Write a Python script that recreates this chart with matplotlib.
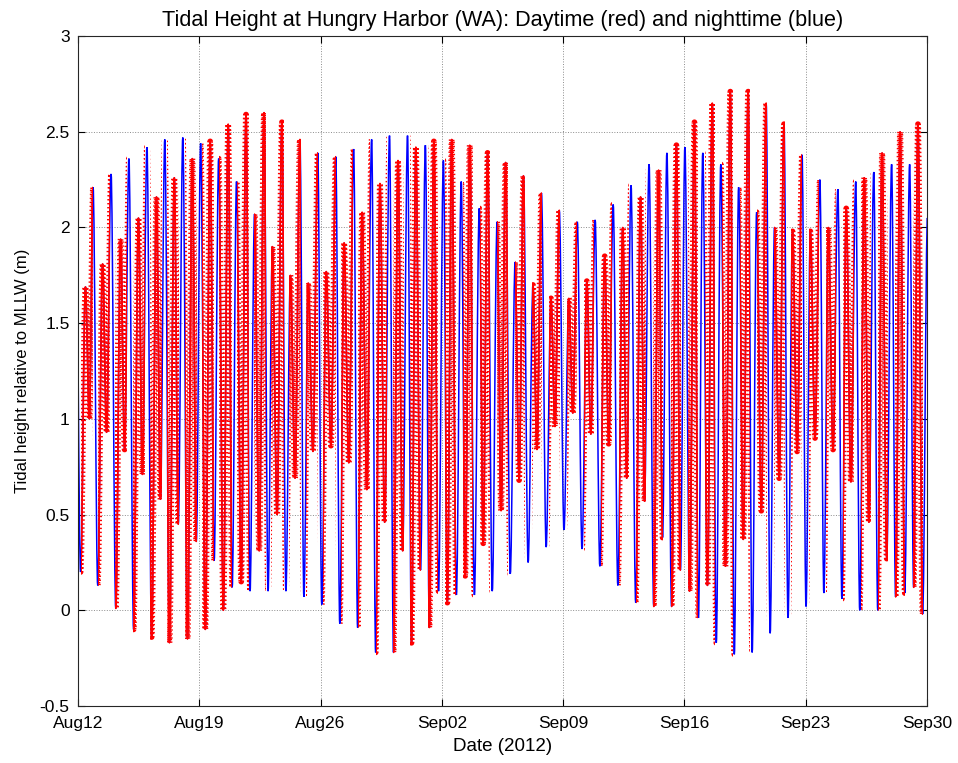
"""Tidal height at Hungry Harbor (WA), Aug-Sep 2012, with daytime samples in red."""

import numpy as np
import matplotlib
matplotlib.use("Agg")
import matplotlib.pyplot as plt
from matplotlib.path import Path
from matplotlib.patches import PathPatch

# time (days after Aug 12 00:00) of the first high water of each tidal day
high1_time = [-0.12, 0.87, 1.91, 2.94, 3.98, 5.01, 6.05, 7.08, 8.12, 9.15,
              10.19, 11.22, 12.26, 13.29, 14.33, 15.36, 16.40, 17.43, 18.47,
              19.50, 20.54, 21.57, 22.61, 23.64, 24.68, 25.71, 26.75, 27.78,
              28.82, 29.85, 30.89, 31.92, 32.96, 33.99, 35.03, 36.06, 37.10,
              38.13, 39.17, 40.20, 41.24, 42.27, 43.31, 44.34, 45.38, 46.41,
              47.45, 48.48]
# heights (m above MLLW) of the four turning points of each tidal day
high1 = [2.16, 2.21, 2.28, 2.36, 2.42, 2.46, 2.47, 2.44, 2.36, 2.24, 2.07,
         1.90, 1.75, 1.71, 1.77, 1.92, 2.08, 2.23, 2.35, 2.42, 2.45, 2.46,
         2.43, 2.39, 2.34, 2.27, 2.18, 2.09, 2.03, 2.04, 2.12, 2.22, 2.33,
         2.39, 2.42, 2.39, 2.33, 2.21, 2.08, 2.00, 1.98, 1.98, 2.00, 2.10,
         2.26, 2.39, 2.50, 2.54]
low1 = [0.20, 0.13, 0.01, -0.10, -0.14, -0.17, -0.15, -0.10, 0.00, 0.15,
        0.31, 0.50, 0.69, 0.83, 0.86, 0.77, 0.63, 0.46, 0.31, 0.21, 0.10,
        0.08, 0.08, 0.10, 0.19, 0.25, 0.33, 0.42, 0.32, 0.23, 0.13, 0.04,
        0.02, 0.02, 0.10, 0.13, 0.23, 0.37, 0.52, 0.69, 0.83, 0.90, 0.84,
        0.67, 0.46, 0.27, 0.09, -0.02]
high2 = [1.69, 1.81, 1.94, 2.05, 2.16, 2.26, 2.36, 2.45, 2.54, 2.59, 2.60,
         2.55, 2.46, 2.39, 2.37, 2.41, 2.46, 2.48, 2.48, 2.43, 2.35, 2.24,
         2.10, 2.03, 1.82, 1.70, 1.63, 1.63, 1.72, 1.85, 2.00, 2.16, 2.30,
         2.43, 2.55, 2.65, 2.71, 2.71, 2.65, 2.54, 2.38, 2.25, 2.20, 2.24,
         2.29, 2.33, 2.33, 2.05]
low2 = [1.00, 0.93, 0.84, 0.71, 0.58, 0.45, 0.36, 0.26, 0.12, 0.10, 0.10,
        0.10, 0.07, 0.03, -0.07, -0.09, -0.22, -0.22, -0.17, -0.09, 0.04,
        0.18, 0.35, 0.52, 0.68, 0.84, 0.96, 1.03, 0.92, 0.87, 0.69, 0.57,
        0.38, 0.21, -0.04, -0.17, -0.23, -0.22, -0.12, -0.04, 0.02, 0.09,
        0.06, 0.00, 0.00, 0.07, 0.12, 0.15]
# low, second high and second low follow the first high by these day fractions
turn_offset = [0.0, 0.27, 0.55, 0.78]

week_day = [0, 7, 14, 21, 28, 35, 42, 49]
week_label = ["Aug12", "Aug19", "Aug26", "Sep02", "Sep09", "Sep16", "Sep23", "Sep30"]
# start and end of the red (daytime) part of each day, as fractions of the day
sunrise = [0.16, 0.16, 0.15, 0.20, 0.21, 0.20, 0.18, 0.17]
sunset = [0.84, 0.86, 0.87, 0.80, 0.80, 0.78, 0.78, 0.74]

y_ticks = [-0.5, 0, 0.5, 1, 1.5, 2, 2.5, 3]
y_labels = ["-0.5", "0", "0.5", "1", "1.5", "2", "2.5", "3"]


def tide_path(t, h, k=0.36):
    # smooth curve through the turning points, flat at each high and low
    verts = [(t[0], h[0])]
    codes = [Path.MOVETO]
    for t0, h0, t1, h1 in zip(t[:-1], h[:-1], t[1:], h[1:]):
        dt = t1 - t0
        verts += [(t0 + k * dt, h0), (t1 - k * dt, h1), (t1, h1)]
        codes += [Path.CURVE4] * 3
    return Path(verts, codes)


def daylight_path():
    days = np.arange(-1, 50)
    rise = np.interp(days + 0.5, week_day, sunrise)
    dusk = np.interp(days + 0.5, week_day, sunset)
    verts, codes = [], []
    for d, r, s in zip(days, rise, dusk):
        verts += [(d + r, -5), (d + s, -5), (d + s, 5), (d + r, 5), (d + r, -5)]
        codes += [Path.MOVETO, Path.LINETO, Path.LINETO, Path.LINETO, Path.CLOSEPOLY]
    return Path(verts, codes)


plt.rcParams["font.family"] = ["Liberation Sans", "DejaVu Sans"]

t = np.add.outer(np.array(high1_time), turn_offset).ravel()
h = np.column_stack([high1, low1, high2, low2]).ravel()
curve = tide_path(t, h)

fig = plt.figure(figsize=(9.58, 7.63), dpi=100)
ax = fig.add_axes([0.0814, 0.0747, 0.8862, 0.878])

ax.add_patch(PathPatch(curve, fill=False, ec=(0, 0, 1), lw=1.1, zorder=2))
daylight = daylight_path()
# daytime samples: a solid red core with short cross bars, like dense '+' marks
for lw, ls in ((1.2, "-"), (4.1, (0, (0.25, 0.45)))):
    red = PathPatch(curve, fill=False, ec=(1, 0, 0), lw=lw, ls=ls,
                    capstyle="butt", joinstyle="round", zorder=3)
    ax.add_patch(red)
    red.set_clip_path(daylight, ax.transData)

ax.set_xlim(0, 49)
ax.set_ylim(-0.5, 3)
ax.set_xticks(week_day)
ax.set_xticklabels(week_label)
ax.set_yticks(y_ticks)
ax.set_yticklabels(y_labels)
ax.tick_params(direction="in", length=5, width=0.8, labelsize=12.5,
               top=True, right=True, colors="black")
ax.tick_params(axis="x", pad=7)
ax.tick_params(axis="y", pad=6)
ax.grid(True, ls=":", color="0.55", lw=0.7)
ax.set_axisbelow(True)
for spine in ax.spines.values():
    spine.set_color("0.15")
    spine.set_linewidth(0.8)

ax.set_title("Tidal Height at Hungry Harbor (WA): Daytime (red) and nighttime (blue)",
             fontsize=15.6, pad=7)
ax.set_xlabel("Date (2012)", fontsize=13.5, labelpad=5)
ax.set_ylabel("Tidal height relative to MLLW (m)", fontsize=12, labelpad=7)

fig.savefig("out.png", dpi=100)
